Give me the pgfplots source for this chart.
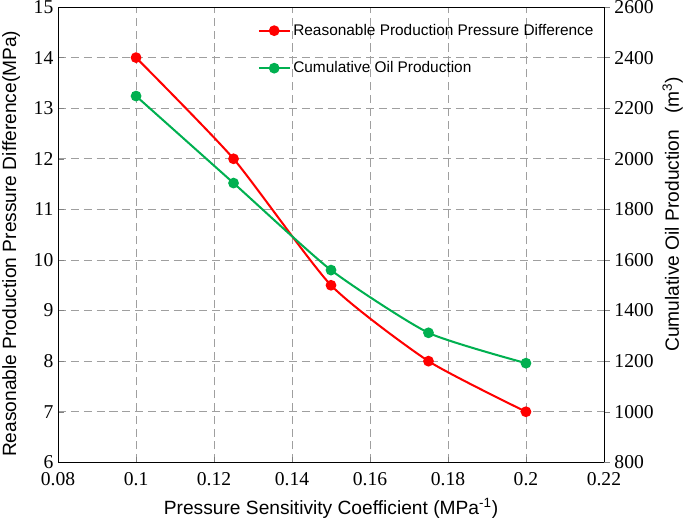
\documentclass[border=0pt]{standalone}
\usepackage{fontspec}
\setmainfont{Liberation Sans}
\newfontfamily\tickfont{Liberation Serif}
\usepackage{pgfplots}
\pgfplotsset{compat=1.18}
\definecolor{myred}{RGB}{255,0,0}
\definecolor{mygreen}{RGB}{0,176,80}
\begin{document}
\begin{tikzpicture}
\pgfplotsset{
  common/.style={
    width=404pt, height=337pt, scale only axis,
    at={(0,0)}, anchor=south west,
    xmin=0.08, xmax=0.22,
    xtick={0.08,0.1,...,0.22},
    /pgf/number format/assume math mode=true,
    tick label style={font=\tickfont\fontsize{14.5}{14.5}\selectfont},
    label style={font=\fontsize{14.2}{16}\selectfont},
    x tick label style={/pgf/number format/fixed, /pgf/number format/precision=2},
  }
}
\begin{axis}[common,
  ymin=6, ymax=15, ytick={6,...,15},
  axis x line*=bottom, axis y line*=left,
  tick align=inside,
  x tick label style={yshift=-4pt},
  grid=major, major grid style={gray!75, dash pattern=on 6pt off 3.5pt, line width=0.6pt},
  xlabel={Pressure Sensitivity Coefficient (MPa\textsuperscript{-1})},
  xlabel style={at={(axis description cs:0.5,0)}, anchor=center, yshift=-34pt},
  ylabel={Reasonable Production Pressure Difference(MPa)},
  ylabel style={at={(axis description cs:-0.086,0.48)}, anchor=center},
  legend style={draw=none, fill=none, at={(0.358,0.975)}, anchor=north west,
    font=\fontsize{11.4}{13}\selectfont, row sep=14pt},
  legend cell align=left,
  legend image code/.code={\draw[mark repeat=2,mark phase=2,#1] plot coordinates {(0cm,0cm) (0.4cm,0cm) (0.8cm,0cm)};},
  every axis plot/.append style={line width=1.5pt},
]
\addplot[myred, smooth, tension=0.35, mark=*, mark size=3.2pt] coordinates {
(0.1,14) (0.125,12) (0.15,9.5) (0.175,8) (0.2,7)};
\addlegendentry{Reasonable Production Pressure Difference}
\addlegendimage{mygreen, line width=1.5pt, mark=*, mark size=3.2pt}
\addlegendentry{Cumulative Oil Production}
\draw[line width=0.8pt] (rel axis cs:0,1) -- (rel axis cs:1,1);
\end{axis}
\begin{axis}[common,
  ymin=800, ymax=2600, ytick={800,1000,...,2600},
  axis x line=none, axis y line*=right,
  tick align=outside,
  y tick label style={/pgf/number format/1000 sep={}},
  ylabel={Cumulative Oil Production\ \ \ (m\textsuperscript{3})},
  ylabel style={at={(axis description cs:1.126,0.545)}, anchor=center},
  every axis plot/.append style={line width=1.5pt},
]
\addplot[mygreen, smooth, tension=0.35, mark=*, mark size=3.2pt] coordinates {
(0.1,2248) (0.125,1904) (0.15,1560) (0.175,1312) (0.2,1192)};
\end{axis}
\pgfresetboundingbox
\useasboundingbox (-43pt,-42.2pt) rectangle (464pt,342.2pt);
\end{tikzpicture}
\end{document}
